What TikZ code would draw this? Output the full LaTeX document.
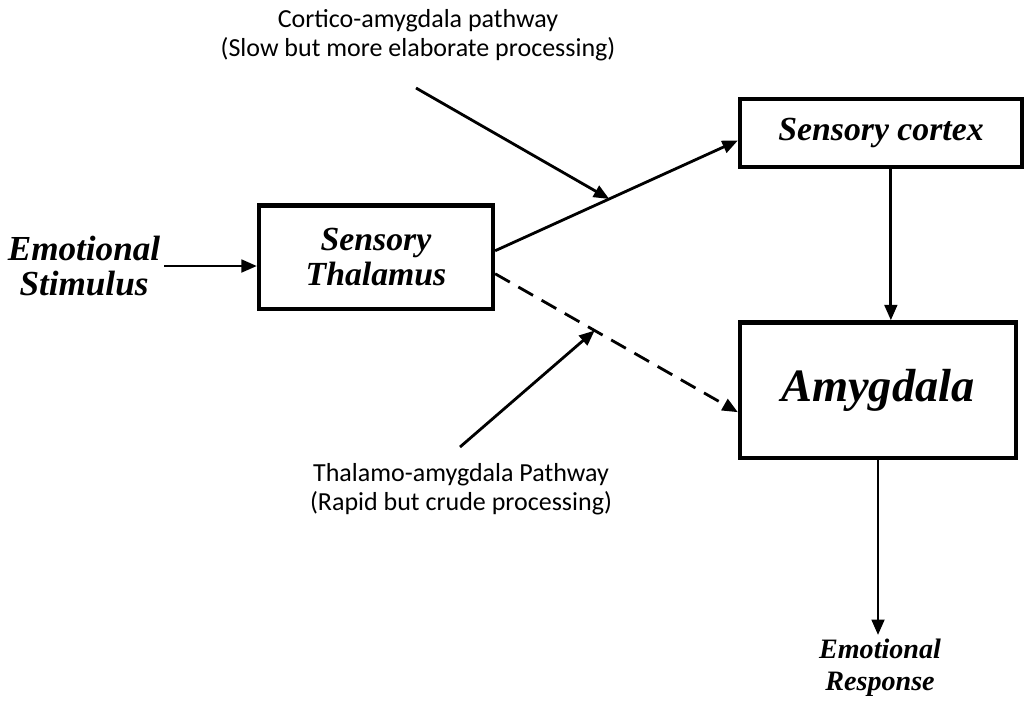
\documentclass[tikz,border=0pt]{standalone}
\usepackage{fontspec}
\setmainfont{Carlito}
\newfontfamily\boxfont{Liberation Serif}
\usetikzlibrary{arrows.meta,positioning}

\begin{document}
\begin{tikzpicture}[x=0.025cm,y=-0.025cm,>={Triangle[length=11pt,width=9pt]},
                    line width=2pt]
  \tikzset{
    box/.style={draw,line width=3pt,align=center,inner sep=0pt,
                font=\boxfont\bfseries\itshape\fontsize{24}{25.5}\selectfont},
    term/.style={align=center,inner sep=2pt,
                 font=\boxfont\bfseries\itshape\fontsize{25}{25}\selectfont},
    note/.style={align=center,inner sep=0pt,font=\fontsize{18.5}{21}\selectfont},
    dashline/.style={dash pattern=on 12pt off 7pt}
  }
  \useasboundingbox (0,0) rectangle (1024,700);

  \node[term]                                           (stim)   at (84,266)  {Emotional\\Stimulus};
  \node[box,minimum width=5.85cm,minimum height=2.58cm] (thal)   at (376,257) {Sensory\\Thalamus};
  \node[box,minimum width=7.05cm,minimum height=1.7cm]  (cortex) at (881,133) {Sensory cortex};
  \node[box,minimum width=6.9cm,minimum height=3.38cm,
        font=\boxfont\bfseries\itshape\fontsize{33}{36}\selectfont]
                                                        (amyg)   at (878,390) {Amygdala};
  \node[term,font=\boxfont\bfseries\itshape\fontsize{20}{22.8}\selectfont]
                                                        (resp)   at (880,668) {Emotional\\Response};
  \node[note] (cortnote) at (418,35)  {Cortico-amygdala pathway\\(Slow but more elaborate processing)};
  \node[note] (thalnote) at (461,489) {Thalamo-amygdala Pathway\\(Rapid but crude processing)};

  \coordinate (cA) at (416,88);
  \coordinate (cB) at (460,447);

  \draw[->] (stim) -- (thal.west |- stim);
  \draw[->] (thal.3) -- coordinate[pos=0.47] (mA) (cortex.183);
  \draw[->,dashline] (thal.-8) -- coordinate[pos=0.41] (mB) (amyg.189);
  \draw[->] (cA) -- (mA);
  \draw[->] (cB) -- (mB);
  \draw[->] ([xshift=7pt]cortex.south) -- ([xshift=7pt]cortex.south |- amyg.north);
  \draw[->] (amyg.south) -- (amyg.south |- resp.north);
\end{tikzpicture}
\end{document}
